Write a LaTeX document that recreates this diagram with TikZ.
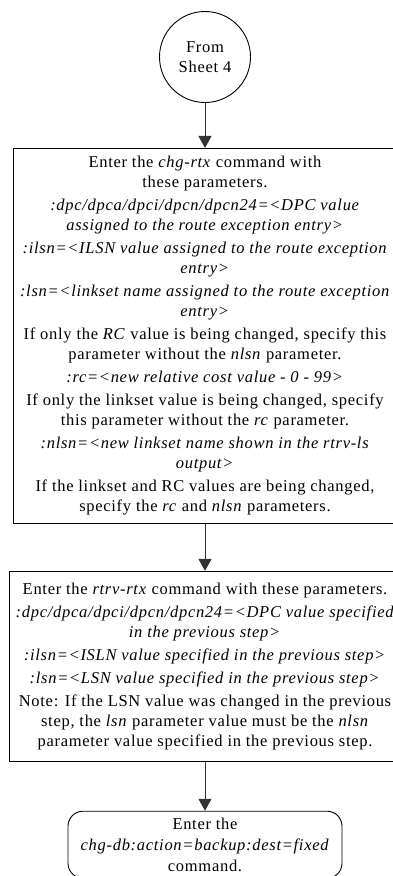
\documentclass[tikz,border=0pt]{standalone}
\usepackage{fontspec}
\setmainfont{Liberation Serif}[LetterSpace=4.3]
\usetikzlibrary{arrows.meta,positioning,shapes.geometric}

\tikzset{
  boxfont/.style={font=\fontsize{16.5pt}{20pt}\selectfont},
  stepbox/.style={draw, line width=0.9pt, inner sep=0pt, align=center, boxfont},
  sheetcirc/.style={draw, circle, line width=0.9pt, minimum size=91pt, inner sep=0pt, align=center, boxfont},
  endbox/.style={stepbox, rounded corners=15pt},
  flow/.style={-{Triangle[width=13pt,length=12pt]}, line width=1pt, draw=black!80}
}

\begin{document}
\begin{tikzpicture}
\useasboundingbox (0,0) rectangle (393pt,-876pt);
\node (from) [sheetcirc] at (205pt,-57pt) {From\\Sheet 4};
\node (chg) [stepbox, minimum width=384pt, minimum height=375pt, below=45pt of from] {%
Enter the \textit{chg-rtx} command with\\
these parameters.\\[3pt]
\textit{:dpc/dpca/dpci/dpcn/dpcn24=<DPC value}\\
\textit{assigned to the route exception entry>}\\[3pt]
\textit{:ilsn=<ILSN value assigned to the route exception}\\
\textit{entry>}\\[3pt]
\textit{:lsn=<linkset name assigned to the route exception}\\
\textit{entry>}\\[3pt]
If only the \textit{RC} value is being changed, specify this\\
parameter without the \textit{nlsn} parameter.\\[3pt]
\textit{:rc=<new relative cost value - 0 - 99>}\\[3pt]
If only the linkset value is being changed, specify\\
this parameter without the \textit{rc} parameter.\\[3pt]
\textit{:nlsn=<new linkset name shown in the rtrv-ls}\\
\textit{output>}\\[3pt]
If the linkset and RC values are being changed,\\
specify the \textit{rc} and \textit{nlsn} parameters.};
\node (rtrv) [stepbox, minimum width=392pt, minimum height=190pt, below=47pt of chg] {%
Enter the \textit{rtrv-rtx} command with these parameters.\\[3pt]
\textit{:dpc/dpca/dpci/dpcn/dpcn24=<DPC value specified}\\
\textit{in the previous step>}\\[3pt]
\textit{:ilsn=<ISLN value specified in the previous step>}\\[3pt]
\textit{:lsn=<LSN value specified in the previous step>}\\[3pt]
Note: If the LSN value was changed in the previous\\
step, the \textit{lsn} parameter value must be the \textit{nlsn}\\
parameter value specified in the previous step.};
\node (backup) [endbox, minimum width=274pt, minimum height=67pt, below=49pt of rtrv, font=\fontsize{16.5pt}{21pt}\selectfont] {%
Enter the\\
\textit{chg-db:action=backup:dest=fixed}\\
command.};
\draw[flow] (from) -- (chg);
\draw[flow] (chg) -- (rtrv);
\draw[flow] (rtrv) -- (backup);
\end{tikzpicture}
\end{document}
